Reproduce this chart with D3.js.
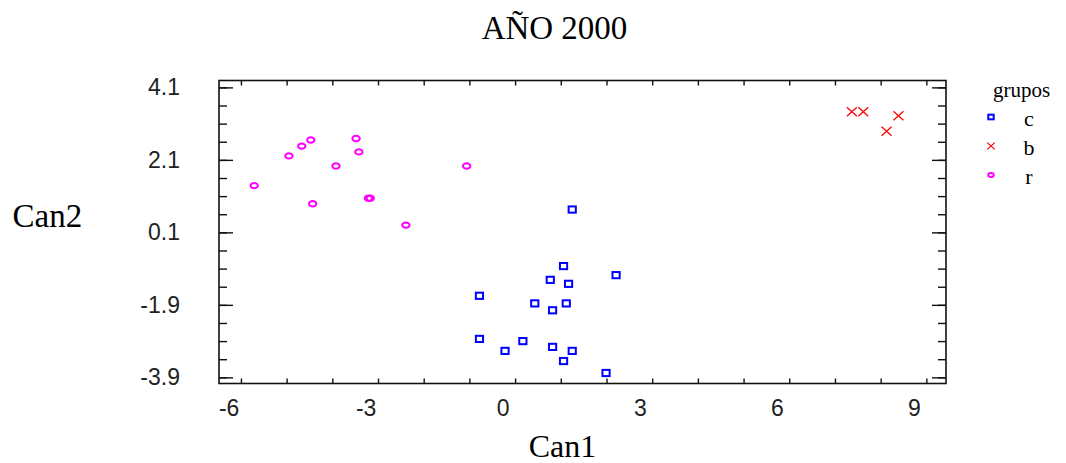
<!DOCTYPE html>
<html>
<head>
<meta charset="utf-8">
<script src="https://cdn.jsdelivr.net/npm/d3@7"></script>
<style>
	body{margin:0;background:#fff}
	text{font-family:'Liberation Serif','Times New Roman',serif}
	.tick text{font-family:'Liberation Sans',Arial,sans-serif;font-size:23px;fill:#222}
</style>
</head>
<body>
<div id="chart"></div>
<script>

// groups shown in the legend, in legend order
const groups=['c','b','r']

// Can1 / Can2 scores per group
const groupC=[
	[1.52,0.73],[1.33,-0.83],[2.48,-1.08],[1.04,-1.21],[1.44,-1.32],
	[-0.51,-1.65],[0.70,-1.86],[1.39,-1.86],[1.09,-2.05],[-0.51,-2.84],
	[0.44,-2.90],[0.05,-3.17],[1.09,-3.06],[1.52,-3.17],[1.33,-3.45],[2.26,-3.78]
]
const groupB=[
	[7.64,3.43],[7.89,3.43],[8.66,3.32],[8.40,2.89]
]
const groupR=[
	[-5.44,1.39],[-4.68,2.21],[-4.40,2.48],[-4.20,2.65],[-3.21,2.69],
	[-3.15,2.32],[-3.65,1.93],[-4.16,0.89],[-2.94,1.04],[-2.90,1.04],
	[-2.12,0.30],[-0.79,1.93]
]

// axis labels
const xLabels=[-6,-3,0,3,6,9]
const yLabels=[4.1,2.1,0.1,-1.9,-3.9]
const xMinor=[-5.73,-4.73,-3.73,-2.73,-1.73,-0.73,0.27,1.27,2.27,3.27,4.27,5.27,6.27,7.27,8.27,9.27]
const yMinor=[4.1,3.6,3.1,2.6,2.1,1.6,1.1,0.6,0.1,-0.4,-0.9,-1.4,-1.9,-2.4,-2.9,-3.4,-3.9]

const W=1066,H=463
const margin=({top:80.5, right:120, bottom:79.5, left:219})
const width=W-margin.left-margin.right,
	height=H-margin.top-margin.bottom

const root=d3.select('#chart').append('svg')
	.attr('width',W)
	.attr('height',H)

const svg=root.append('g')
	.attr('transform','translate('+margin.left+','+margin.top+')')

const xScale=d3.scaleLinear()
	.domain([-6.21,9.70])
	.range([0,width])

const yScale=d3.scaleLinear()
	.domain([-4.07,4.29])
	.range([height,0])

// plain hyphen for negatives, like the original
const hyph=f=>d=>f(d).replace('\u2212','-')

// frame
svg.append('rect')
	.attr('width',width)
	.attr('height',height)
	.attr('fill','none')
	.attr('stroke','#111')
	.attr('stroke-width',1.6)

function ticksOnly(axis){
	return g=>{
		g.call(axis)
		g.select('.domain').remove()
		g.selectAll('line').attr('stroke','#111').attr('stroke-width',1.4)
	}
}

// x ticks (bottom / top, pointing inward)
svg.append('g')
	.attr('transform',`translate(0,${height})`)
	.call(ticksOnly(d3.axisBottom(xScale).tickValues(xMinor).tickSize(-5).tickFormat('')))
svg.append('g')
	.call(ticksOnly(d3.axisTop(xScale).tickValues(xMinor).tickSize(-5).tickFormat('')))

// x labels
svg.append('g')
	.attr('transform',`translate(0,${height})`)
	.call(ticksOnly(d3.axisBottom(xScale).tickValues(xLabels).tickSize(0).tickPadding(16).tickFormat(hyph(d3.format('d')))))

// y ticks, left and right
svg.append('g')
	.call(ticksOnly(d3.axisLeft(yScale).tickValues(yMinor).tickSize(-8).tickFormat('')))
svg.append('g')
	.call(ticksOnly(d3.axisLeft(yScale).tickValues(yLabels).tickSize(-14).tickPadding(39).tickFormat(hyph(d3.format('.1f')))))
svg.append('g')
	.attr('transform',`translate(${width},0)`)
	.call(ticksOnly(d3.axisRight(yScale).tickValues(yMinor).tickSize(-8).tickFormat('')))
svg.append('g')
	.attr('transform',`translate(${width},0)`)
	.call(ticksOnly(d3.axisRight(yScale).tickValues(yLabels).tickSize(-14).tickFormat('')))

// marker drawers
const markers={
	c:{draw:(g,k)=>g.append('rect')
		.attr('x',-3.6*k).attr('y',-3.1*k).attr('width',7.2*k).attr('height',6.2*k)
		.attr('fill','none').attr('stroke','#0000ff').attr('stroke-width',2)},
	b:{draw:(g,k)=>g.append('path')
		.attr('d',`M${-5*k},${-4.5*k}L${5*k},${4.5*k}M${-5*k},${4.5*k}L${5*k},${-4.5*k}`)
		.attr('fill','none').attr('stroke','#ff0000').attr('stroke-width',1.3)},
	r:{draw:(g,k)=>g.append('ellipse')
		.attr('rx',3.7*k).attr('ry',2.7*k)
		.attr('fill','none').attr('stroke','#ff00ff').attr('stroke-width',2)}
}

const series=[['c',groupC],['b',groupB],['r',groupR]]

series.forEach(([key,pts])=>{
	svg.append('g').attr('class','pts-'+key)
		.selectAll('g')
		.data(pts)
		.join('g')
		.attr('transform',d=>`translate(${xScale(d[0])},${yScale(d[1])})`)
		.each(function(){ markers[key].draw(d3.select(this),1) })
})

// titles
root.append('text')
	.attr('x',554.5).attr('y',39)
	.attr('text-anchor','middle')
	.attr('font-size',33)
	.text('AÑO 2000')

root.append('text')
	.attr('x',12.5).attr('y',227)
	.attr('font-size',33)
	.text('Can2')

root.append('text')
	.attr('x',562.5).attr('y',457)
	.attr('text-anchor','middle')
	.attr('font-size',32)
	.text('Can1')

// legend
const legend=root.append('g')
	.attr('transform','translate(993,0)')

legend.append('text')
	.attr('x',0).attr('y',97)
	.attr('font-size',21)
	.text('grupos')

const rowY=d3.scalePoint()
	.domain(groups)
	.range([117,175])

groups.forEach(key=>{
	const row=legend.append('g')
		.attr('transform',`translate(0,${rowY(key)})`)
	markers[key].draw(row.append('g').attr('transform','translate(-2,0)'),0.75)
	row.append('text')
		.attr('x',36).attr('y',9)
		.attr('text-anchor','middle')
		.attr('font-size',22)
		.text(key)
})

</script>
</body>
</html>
